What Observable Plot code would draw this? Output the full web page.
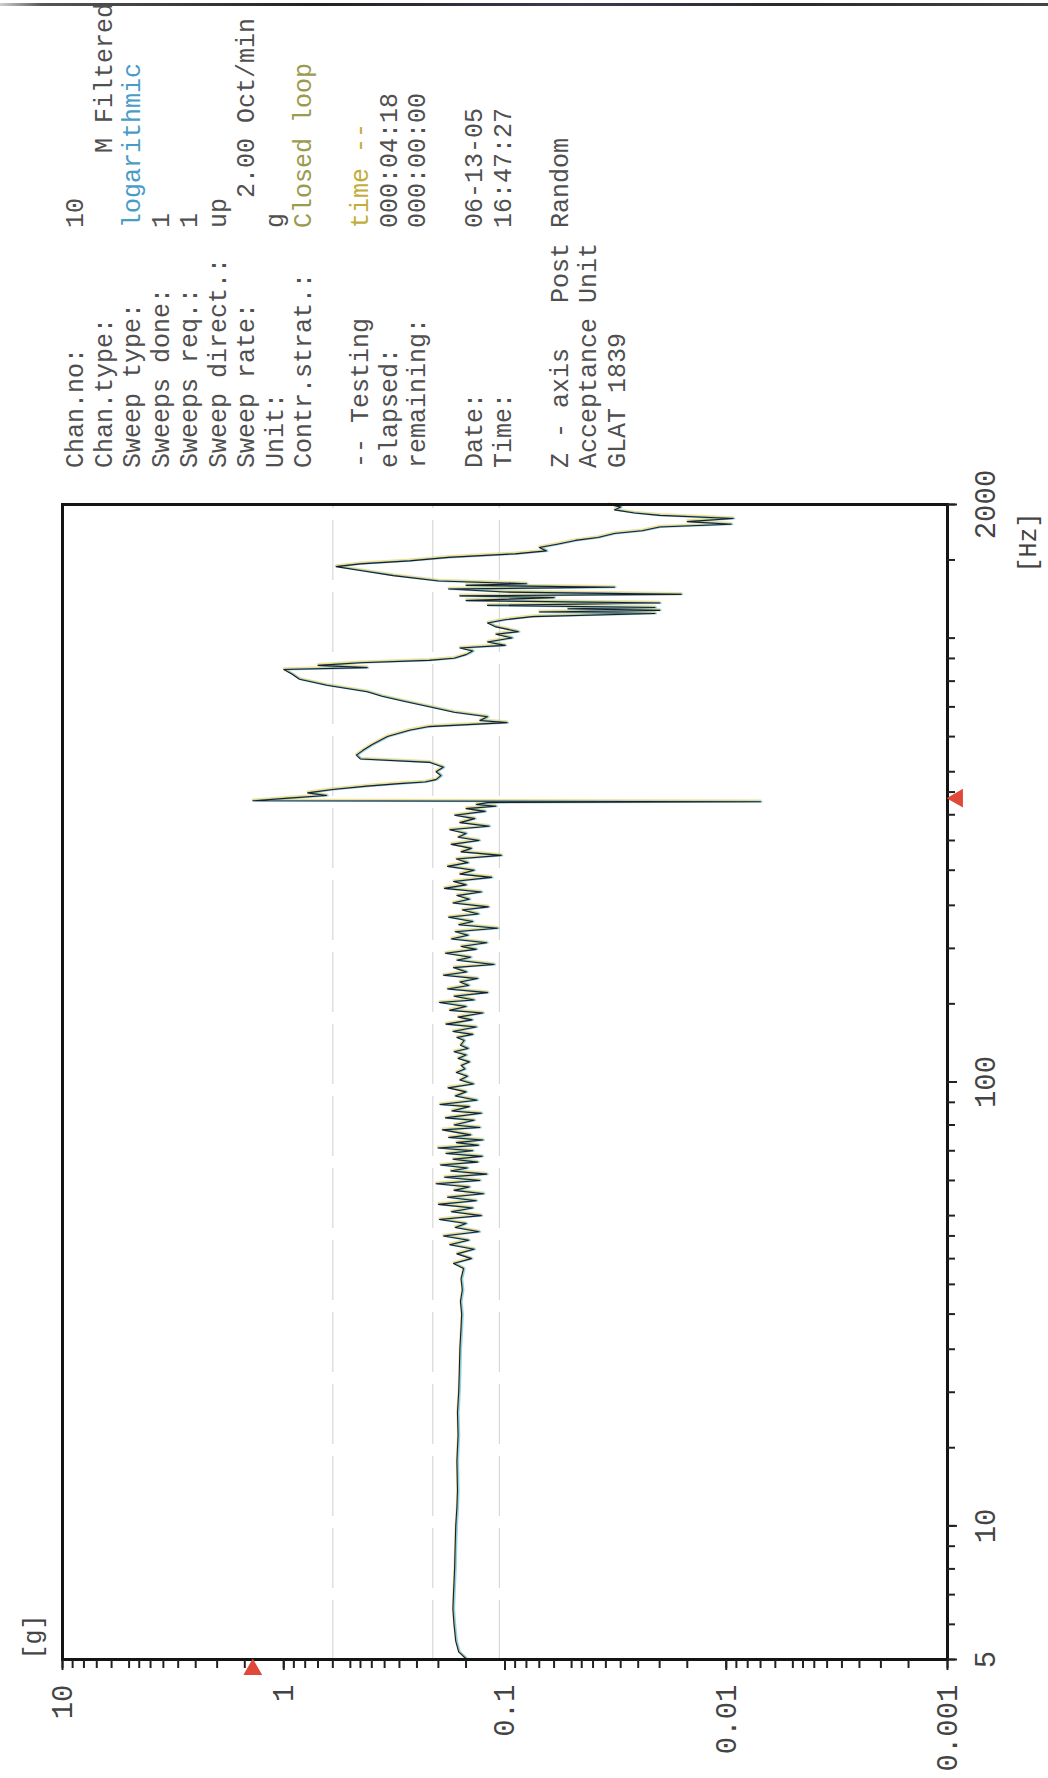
<!DOCTYPE html>
<html>
<head>
<meta charset="utf-8">
<script src="https://cdn.jsdelivr.net/npm/d3@7"></script>
<script src="https://cdn.jsdelivr.net/npm/@observablehq/plot@0.6"></script>
<style>
  html, body { margin: 0; padding: 0; background: #fff; overflow: hidden; }
  #page { position: relative; width: 1048px; height: 1778px; overflow: hidden; background: #fff; }
  #topline { position: absolute; left: 0; top: 3px; width: 1048px; height: 3px;
    background: linear-gradient(to right, #d0d0d0 0%, #555 4%, #222 30%, #3b3b55 55%, #2a2a2a 75%, #444 100%); }
  #land { position: absolute; left: 0; top: 0; width: 1778px; height: 1048px;
    transform-origin: 0 0; transform: translate(0px, 1778px) rotate(-90deg); }
  #chart { position: absolute; left: 0; top: 0; }
  #info { position: absolute; left: 1310px; top: 63px; font-family: 'Liberation Mono', 'DejaVu Sans Mono', monospace;
    font-size: 25px; color: #505050; }
  #info div { height: 28.5px; line-height: 28.5px; white-space: pre; }
</style>
</head>
<body>
<div id="page">
  <div id="topline"></div>
  <div id="land">
    <div id="chart"></div>
    <div id="info"></div>
  </div>
</div>
<script>
// ---- data ----
// sine sweep response: [frequency Hz, acceleration g]
const sweep = [
  [5.0,0.149],[5.2,0.162],[5.5,0.167],[6.0,0.170],[6.5,0.172],[7.0,0.171],[8.0,0.169],[9.0,0.168],[10,0.167],[11,0.165],
  [12,0.164],[14,0.165],[16,0.163],[18,0.164],[20,0.162],[22,0.161],[25,0.160],[28,0.158],[30,0.157],[32,0.159],
  [34,0.156],[36,0.158],[38,0.154],
  [39,0.171],[40,0.142],[41,0.165],[42,0.138],[43,0.178],[44,0.146],[45,0.190],[46,0.131],[47,0.168],[48,0.150],
  [49,0.198],[50,0.128],[51,0.175],[52,0.140],[53,0.200],[54,0.135],[55,0.182],[56,0.125],[57,0.170],[58,0.145],
  [59,0.205],[60,0.130],[61,0.188],[62,0.121],[63,0.176],[64,0.148],[65,0.196],[66,0.133],[67,0.172],[68,0.127],
  [69,0.185],[70,0.140],[71,0.201],[72,0.132],[73,0.166],[74,0.126],[75,0.180],[76,0.143],[78,0.192],[79,0.130],
  [80,0.170],[82,0.138],[83,0.186],[85,0.128],[86,0.174],[88,0.145],[89,0.197],[91,0.134],[93,0.168],[95,0.150],
  [97,0.181],[99,0.139],
  [101,0.160],[103,0.148],[105,0.166],[107,0.152],[109,0.158],[111,0.145],[113,0.163],[115,0.150],[117,0.170],
  [119,0.147],[121,0.159],[124,0.153],[126,0.165],
  [128,0.140],[130,0.172],[133,0.135],[135,0.185],[138,0.141],[140,0.163],[143,0.126],[145,0.178],[148,0.150],
  [151,0.198],[153,0.138],[156,0.170],[159,0.120],[162,0.182],[165,0.146],[168,0.160],[171,0.133],[174,0.190],
  [177,0.149],[181,0.171],[184,0.112],[188,0.165],[191,0.143],[195,0.186],[199,0.135],[202,0.158],[206,0.121],
  [210,0.175],[214,0.147],[218,0.168],[222,0.108],[226,0.162],[230,0.140],[235,0.180],[239,0.132],[244,0.156],
  [248,0.119],[253,0.172],[258,0.145],
  [263,0.165],[268,0.128],[273,0.188],[278,0.150],[283,0.171],[289,0.115],[294,0.160],[300,0.138],[306,0.182],
  [312,0.147],[318,0.166],[324,0.104],[330,0.158],[336,0.142],[343,0.175],[350,0.131],[356,0.163],[363,0.150],
  [370,0.178],[377,0.118],[384,0.160],[392,0.137],[399,0.169],[407,0.123],[413,0.150],[418,0.110],[422,0.135],
  [426,0.120],
  [428,0.0070],[430,1.38],[436,0.95],[442,0.64],[448,0.78],[456,0.60],[464,0.42],[470,0.30],[474,0.23],[480,0.205],
  [490,0.195],[500,0.205],[512,0.19],[525,0.22],[534,0.45],[545,0.47],[558,0.44],[575,0.40],[600,0.34],[620,0.27],
  [632,0.22],[645,0.098],[652,0.13],[665,0.12],[681,0.17],[697,0.21],[722,0.29],[740,0.36],[757,0.42],[783,0.64],
  [808,0.85],[830,0.92],[850,1.0],[858,0.42],[868,0.70],[880,0.45],[891,0.22],[901,0.17],[918,0.15],[935,0.14],
  [950,0.16],[963,0.10],[980,0.12],[1001,0.093],[1020,0.11],[1034,0.087],[1060,0.11],[1082,0.12],[1100,0.10],
  [1118,0.075],[1136,0.021],[1145,0.07],[1155,0.020],[1165,0.052],[1172,0.021],[1185,0.12],[1200,0.020],[1215,0.15],
  [1234,0.06],[1245,0.16],[1255,0.016],[1270,0.10],[1290,0.18],[1302,0.032],[1315,0.15],[1326,0.08],[1345,0.20],
  [1383,0.32],[1420,0.45],[1449,0.58],[1470,0.45],[1493,0.27],[1520,0.18],[1548,0.09],[1572,0.065],[1600,0.07],
  [1628,0.058],[1660,0.048],[1685,0.038],[1720,0.032],[1745,0.024],[1780,0.020],[1805,0.0095],[1830,0.015],
  [1860,0.0093],[1890,0.020],[1913,0.026],[1945,0.032],[1975,0.030],[2000,0.034]
];

// faint alarm / abort level lines (g)
const limitLevels = [0.6, 0.212, 0.106];

// axis ticks and labels
const freqLabelValues = [5, 10, 100, 2000];
const freqLabels = ["5", "10", "100", "2000"];
const gLabelValues = [10, 1, 0.1, 0.01, 0.001];
const gLabels = ["10", "1", "0.1", "0.01", "0.001"];
const minorMultipliers = [1, 1.5, 2, 2.5, 3, 3.5, 4, 4.5, 5, 6, 7, 8, 9];

// red markers
const markerFreq = [436];
const markerG = [1.38];

// header text block
const infoLabels = ["Chan.no:", "Chan.type:", "Sweep type:", "Sweeps done:", "Sweeps req.:", "Sweep direct.:",
  "Sweep rate:", "Unit:", "Contr.strat.:", "", "-- Testing", "elapsed:", "remaining:", "", "Date:", "Time:", "",
  "Z - axis   Post Random", "Acceptance Unit", "GLAT 1839"];
const infoValues = ["10", "     M Filtered", "logarithmic", "1", "1", "up", "  2.00 Oct/min", "g", "Closed loop", "",
  "time --", "000:04:18", "000:00:00", "", "06-13-05", "16:47:27", "", "", "", ""];
const infoValueColors = ["#505050", "#505050", "#4a9cc8", "#505050", "#505050", "#505050", "#505050", "#505050", "#9a9a50", "",
  "#c2ad3a", "#505050", "#505050", "", "#505050", "#505050", "", "", "", ""];

// ---- build ----
const rows = sweep.map(([f, g]) => ({f, g}));
function logTicks(lo, hi) {
  const out = [];
  for (let e = Math.floor(Math.log10(lo)); e <= Math.ceil(Math.log10(hi)); e++) {
    for (const m of minorMultipliers) {
      const v = +(m * Math.pow(10, e)).toPrecision(6);
      if (v >= lo - 1e-12 && v <= hi + 1e-9) out.push(v);
    }
  }
  return out;
}
const freqMinor = logTicks(5, 2000);
const gMinor = logTicks(0.001, 10);

const chart = Plot.plot({
  width: 1778,
  height: 1048,
  marginLeft: 118,
  marginRight: 505,
  marginTop: 62,
  marginBottom: 101,
  x: {type: "log", domain: [5, 2000], label: null},
  y: {type: "log", domain: [0.001, 10], label: null},
  style: {fontFamily: "'Liberation Mono', 'DejaVu Sans Mono', monospace", fontSize: "29px", color: "#333", background: "transparent"},
  marks: [
    Plot.ruleY(limitLevels, {stroke: "#d8d8d8", strokeWidth: 1.2, strokeDasharray: "60,12"}),
    Plot.line(rows, {x: "f", y: "g", stroke: "#e2c83a", strokeWidth: 2.2, strokeOpacity: 0.55, dx: 1.2}),
    Plot.line(rows, {x: "f", y: "g", stroke: "#3aaed6", strokeWidth: 2.0, strokeOpacity: 0.55, dy: 1.2}),
    Plot.line(rows, {x: "f", y: "g", stroke: "#1d1d2e", strokeWidth: 1.1}),
    Plot.frame({stroke: "#141414", strokeWidth: 3}),
    Plot.axisX(freqMinor, {label: null, tickSize: 8, strokeWidth: 2, tickFormat: () => "", stroke: "#222"}),
    Plot.axisX(freqLabelValues, {label: null, tickSize: 10, strokeWidth: 2, tickPadding: 17, stroke: "#222", fill: "#444",
      tickFormat: d => freqLabels[freqLabelValues.indexOf(d)]}),
    Plot.axisY(gMinor, {label: null, tickSize: 8, strokeWidth: 2, tickFormat: () => "", stroke: "#222"}),
    Plot.axisY(gLabelValues, {label: null, tickSize: 10, strokeWidth: 2, tickPadding: 15, stroke: "#222", fill: "#444",
      tickFormat: d => gLabels[gLabelValues.indexOf(d)]}),
    Plot.dot(markerFreq, {x: d => d, frameAnchor: "bottom", dy: 10, symbol: "triangle", fill: "#e0493a", stroke: "none", r: 7}),
    Plot.dot(markerG, {y: d => d, frameAnchor: "left", dx: -10, symbol: "triangle", rotate: 90, fill: "#e0493a", stroke: "none", r: 7}),
    Plot.text(["[Hz]"], {frameAnchor: "bottom-right", dy: 88, dx: -8, textAnchor: "end", fontSize: 25, fill: "#444"}),
    Plot.text(["[g]"], {frameAnchor: "top-left", dy: -39, fontSize: 25, fill: "#444"})
  ]
});
document.getElementById("chart").appendChild(chart);

const info = document.getElementById("info");
infoLabels.forEach((lab, i) => {
  const div = document.createElement("div");
  const a = document.createElement("span");
  a.textContent = infoValues[i] ? lab.padEnd(16, " ") : lab;
  div.appendChild(a);
  if (infoValues[i]) {
    const b = document.createElement("span");
    b.textContent = infoValues[i];
    b.style.color = infoValueColors[i];
    div.appendChild(b);
  }
  info.appendChild(div);
});
</script>
</body>
</html>
